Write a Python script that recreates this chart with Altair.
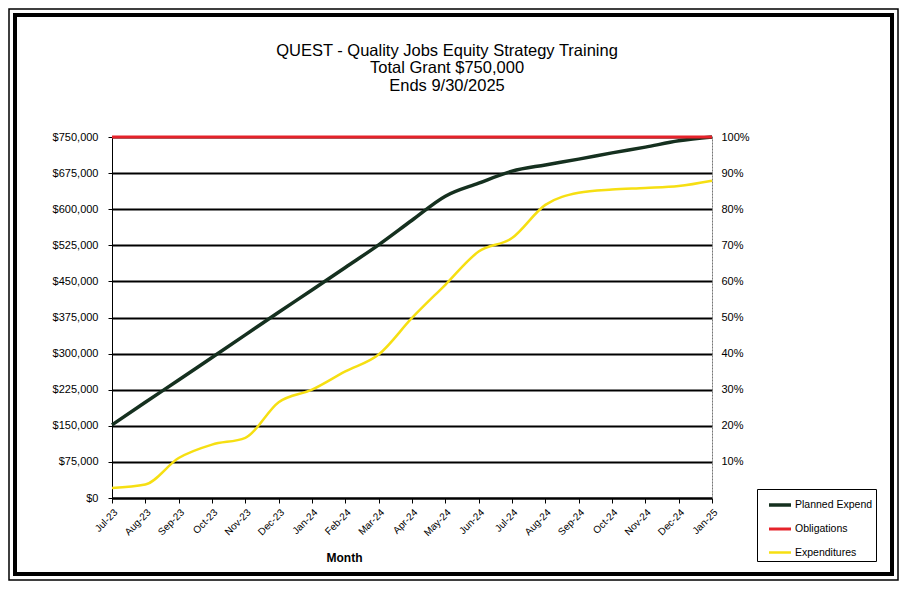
import altair as alt
import pandas as pd

months = ["Jul-23", "Aug-23", "Sep-23", "Oct-23", "Nov-23", "Dec-23", "Jan-24", "Feb-24",
          "Mar-24", "Apr-24", "May-24", "Jun-24", "Jul-24", "Aug-24", "Sep-24", "Oct-24",
          "Nov-24", "Dec-24", "Jan-25"]
planned = [152000, 199000, 245000, 292000, 339000, 386000, 432000, 479000, 526000, 577000,
           627000, 654000, 679000, 692000, 704000, 717000, 729000, 742000, 750000]
obligations = [750000, 750000, 750000, 750000, 750000, 750000, 750000, 750000, 750000, 750000,
               750000, 750000, 750000, 750000, 750000, 750000, 750000, 750000, 750000]
expenditures = [21000, 28000, 83000, 111000, 125000, 199000, 225000, 263000, 298000, 374000,
                443000, 512000, 540000, 609000, 634000, 641000, 644000, 648000, 659000]
series_names = ["Planned Expend", "Obligations", "Expenditures"]
series_colors = ["#15301f", "#e5222a", "#f6df12"]
series_widths = [3.5, 2.5, 3]
y_ticks = [0, 75000, 150000, 225000, 300000, 375000, 450000, 525000, 600000, 675000, 750000]
pct_ticks = [0.1, 0.2, 0.3, 0.4, 0.5, 0.6, 0.7, 0.8, 0.9, 1.0]
total_grant = 750000

rows = []
for s, (name, vals) in enumerate(zip(series_names, [planned, obligations, expenditures])):
    for i, (m, v) in enumerate(zip(months, vals)):
        rows.append({"Month": m, "idx": i, "Series": name, "s": s, "Value": v,
                     "Pct": v / total_grant})
df = pd.DataFrame(rows)

W, H = 600, 361
PL, PT = 104, 129
CW, CH = 891, 573

x_enc = alt.X("Month:O", sort=months, scale=alt.Scale(type="point", padding=0),
              axis=alt.Axis(title="Month", labelAngle=-45, labelAlign="right", labelBaseline="top",
                            labelPadding=4, labelFontSize=10, labelFont="Liberation Sans",
                            labelColor="black", tickColor="black", tickSize=5, domainColor="black",
                            domainWidth=2, titleFont="Liberation Sans", titleFontSize=12,
                            titleFontWeight="bold", titleColor="black", titleX=232, titleY=59,
                            titleAlign="center", titleBaseline="middle"))

color = alt.Color("Series:N", scale=alt.Scale(domain=series_names, range=series_colors),
                  legend=alt.Legend(title=None, orient="none", legendX=645, legendY=352,
                                    symbolType="stroke", symbolSize=484, symbolStrokeWidth=3.5,
                                    rowPadding=4.5, padding=3, symbolOffset=7, labelOffset=2,
                                    labelFont="Liberation Sans", labelFontSize=10.5,
                                    labelColor="black", strokeColor="black",
                                    fillColor="white"))

lines = alt.Chart(df).mark_line(interpolate="monotone").encode(
    x=x_enc,
    y=alt.Y("Value:Q", scale=alt.Scale(domain=[0, 750000], nice=False),
            axis=alt.Axis(title=None, values=y_ticks, format="$,.0f", labelFont="Liberation Sans",
                          labelFontSize=11, labelColor="black", tickColor="black", tickSize=4,
                          domainColor="black", grid=True, gridColor="black", gridWidth=2,
                          labelPadding=10)),
    color=color,
    strokeWidth=alt.StrokeWidth("Series:N", scale=alt.Scale(domain=series_names, range=series_widths),
                                legend=None),
    order=alt.Order("idx:Q"),
    detail="Series:N",
)

right = alt.Chart(df).mark_line(opacity=0).encode(
    x=alt.X("Month:O", sort=months),
    y=alt.Y("Pct:Q", scale=alt.Scale(domain=[0, 1], nice=False),
            axis=alt.Axis(title=None, orient="right", values=pct_ticks, format=".0%",
                          labelFont="Liberation Sans", labelFontSize=11, labelColor="black",
                          ticks=False, labelPadding=9, domainColor="#777777",
                          domainDash=[2, 1], grid=False)),
    order=alt.Order("idx:Q"),
    detail="Series:N",
)

frame_df = pd.DataFrame({"k": [0]})
frame_outer = alt.Chart(frame_df).mark_rect(fill=None, stroke="black", strokeWidth=1.5).encode(
    x=alt.value(-PL + 1), x2=alt.value(CW - PL - 1),
    y=alt.value(-PT + 1), y2=alt.value(CH - PT - 1))
frame_inner = alt.Chart(frame_df).mark_rect(fill=None, stroke="black", strokeWidth=4).encode(
    x=alt.value(-PL + 7), x2=alt.value(CW - PL - 7),
    y=alt.value(-PT + 7), y2=alt.value(CH - PT - 7))

chart = alt.layer(lines, right, frame_outer, frame_inner).resolve_scale(y="independent").properties(
    width=W, height=H,
    autosize=alt.AutoSizeParams(type="none"),
    padding={"left": PL, "top": PT, "right": CW - PL - W, "bottom": CH - PT - H},
    title=alt.TitleParams(
        ["QUEST - Quality Jobs Equity Strategy Training", "Total Grant  $750,000", "Ends 9/30/2025"],
        font="Liberation Sans", fontSize=16.5, fontWeight="normal", color="black",
        anchor="middle", frame="group", dx=35, offset=-86, lineHeight=17.5),
).configure_view(stroke=None).configure(background="white")

chart.save("out.html", embed_options={"renderer": "svg", "actions": False})
